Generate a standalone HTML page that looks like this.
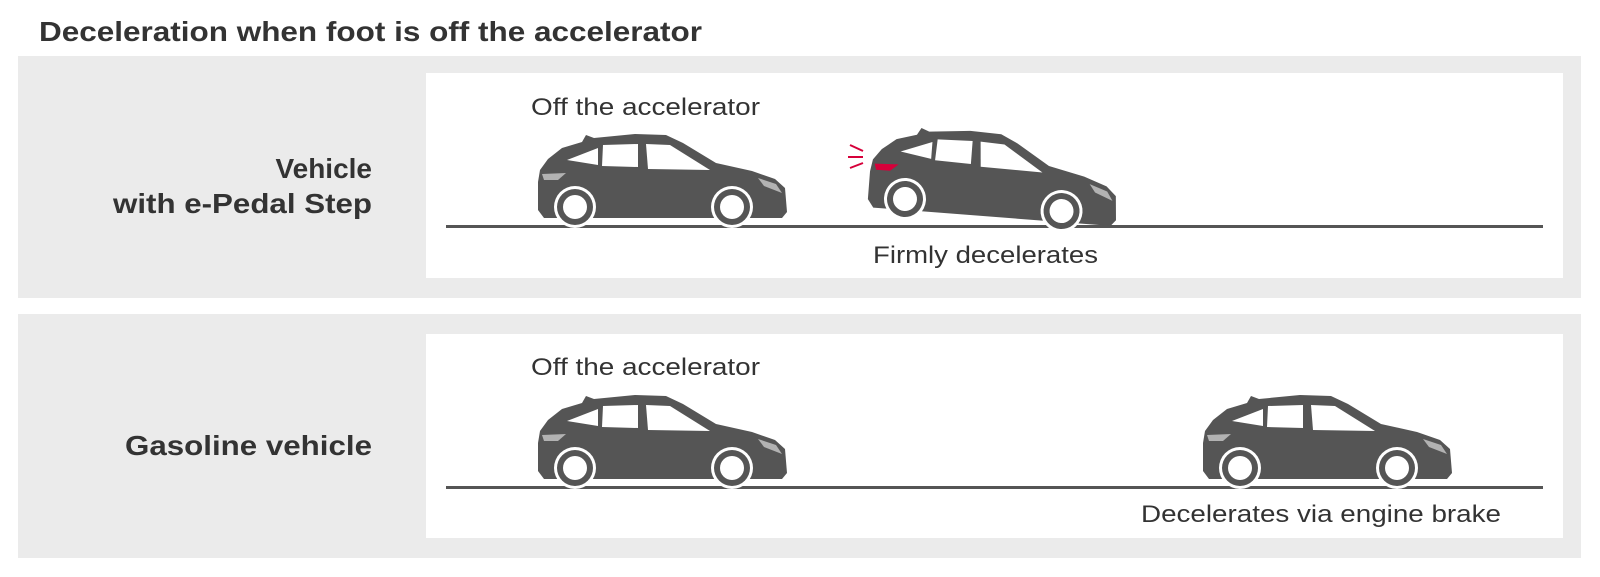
<!DOCTYPE html>
<html><head><meta charset="utf-8"><style>
html,body{margin:0;padding:0;background:#fff;}
svg{display:block;font-family:"Liberation Sans",Arial,sans-serif;}
</style></head><body>
<svg width="1600" height="577" viewBox="0 0 1600 577" xmlns="http://www.w3.org/2000/svg">
<defs>
<g id="body">
  <path d="M18,62 L20,50 L28,39 L42,28 L62,22 L66,15 L74,18 L115,14 L146,15 L163,23 L196,43 L232,51 L255,59 L265,68 L267,92 L262,98 L24,98 L18,90 Z" fill="#555"/>
  <path d="M47,40 L78,28 L78,45 Z" fill="#fff"/>
  <path d="M83,25 L118,24 L118,47 L82,46 Z" fill="#fff"/>
  <path d="M126,24 L150,25 L190,50 L128,49 Z" fill="#fff"/>
  <path d="M238,58 L256,64 L262,73 L244,66 Z" fill="#fff" opacity="0.55"/>
  <circle cx="55" cy="87" r="21" fill="#fff"/>
  <circle cx="55" cy="87" r="18" fill="#555"/>
  <circle cx="55" cy="87" r="12" fill="#fff"/>
  <circle cx="212" cy="87" r="21" fill="#fff"/>
  <circle cx="212" cy="87" r="18" fill="#555"/>
  <circle cx="212" cy="87" r="12" fill="#fff"/>
</g>
<g id="car">
 <g transform="translate(-55,-87)">
  <use href="#body"/>
  <path d="M22,54 L46,53 L38,60 L24,60 Z" fill="#fff" opacity="0.55"/>
 </g>
</g>
<g id="carred">
 <g transform="translate(-55,-87)">
  <use href="#body"/>
  <path d="M22,54 L46,53 L38,60 L24,60 Z" fill="#d6003a"/>
 </g>
</g>
</defs>
<text x="39" y="41" font-size="28" font-weight="bold" fill="#333" textLength="663" lengthAdjust="spacingAndGlyphs">Deceleration when foot is off the accelerator</text>

<rect x="18" y="56" width="1563" height="242" fill="#ebebeb"/>
<rect x="426" y="73" width="1137" height="205" fill="#fff"/>
<rect x="18" y="314" width="1563" height="244" fill="#ebebeb"/>
<rect x="426" y="334" width="1137" height="204" fill="#fff"/>

<text x="372" y="178" font-size="28" font-weight="bold" fill="#333" text-anchor="end">Vehicle</text>
<text x="113" y="213" font-size="28" font-weight="bold" fill="#333" textLength="259" lengthAdjust="spacingAndGlyphs">with e-Pedal Step</text>
<text x="125" y="455" font-size="28" font-weight="bold" fill="#333" textLength="247" lengthAdjust="spacingAndGlyphs">Gasoline vehicle</text>

<text x="531" y="115" font-size="24" fill="#333" textLength="229" lengthAdjust="spacingAndGlyphs">Off the accelerator</text>
<text x="531" y="375" font-size="24" fill="#333" textLength="229" lengthAdjust="spacingAndGlyphs">Off the accelerator</text>
<text x="873" y="263" font-size="24" fill="#333" textLength="225" lengthAdjust="spacingAndGlyphs">Firmly decelerates</text>
<text x="1141" y="522" font-size="24" fill="#333" textLength="360" lengthAdjust="spacingAndGlyphs">Decelerates via engine brake</text>

<rect x="446" y="225" width="1097" height="3" fill="#555"/>
<rect x="446" y="486" width="1097" height="3" fill="#555"/>

<use href="#car" transform="translate(575,207)"/>
<use href="#carred" transform="translate(905,199) rotate(4.4)"/>
<use href="#car" transform="translate(575,468)"/>
<use href="#car" transform="translate(1240,468)"/>

<g stroke="#d6003a" stroke-width="2" fill="none">
 <line x1="850" y1="145" x2="863" y2="151"/>
 <line x1="848" y1="157" x2="863" y2="157"/>
 <line x1="850" y1="168" x2="863" y2="163"/>
</g>
</svg>
</body></html>
